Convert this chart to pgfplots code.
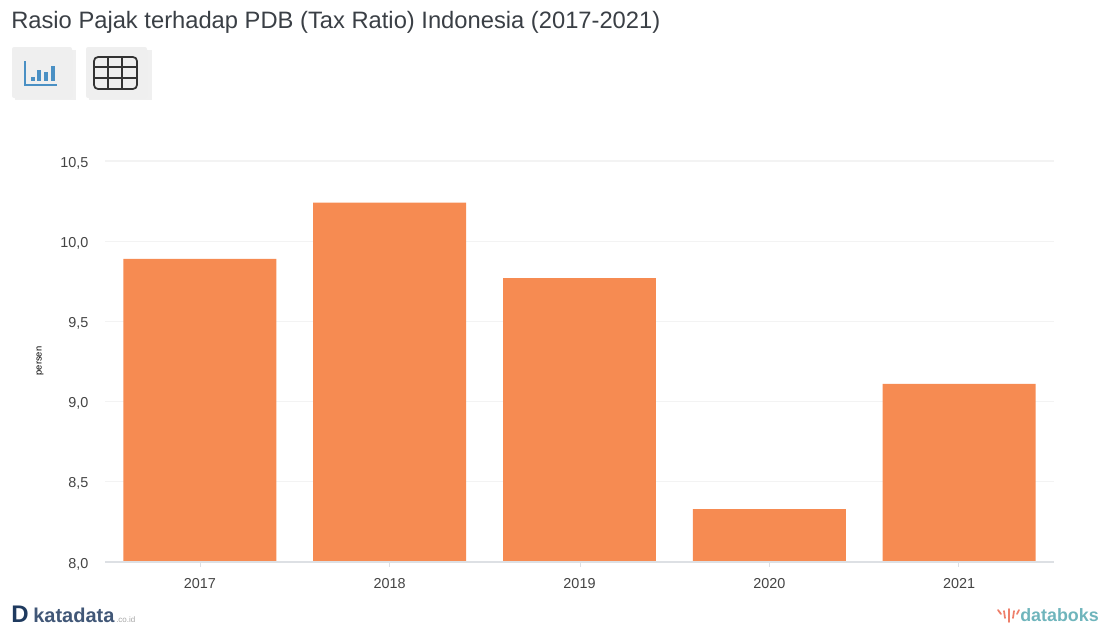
\documentclass[border=0pt]{standalone}
\usepackage{pgfplots}
\pgfplotsset{compat=1.18}
\usepackage{fontspec}
\setmainfont{Liberation Sans}
\definecolor{barorange}{HTML}{F68B52}
\definecolor{gridgray}{HTML}{F3F3F3}
\definecolor{axisgray}{HTML}{DDE0E4}
\definecolor{ticktext}{HTML}{444444}
\definecolor{titletext}{HTML}{3A3F45}
\definecolor{katablue}{HTML}{1F3A5F}
\definecolor{datateal}{HTML}{6FB5BC}
\definecolor{datared}{HTML}{EE7F6A}
\definecolor{iconblue}{HTML}{4A90C4}
\definecolor{btn}{HTML}{EFEFEF}
\definecolor{btnshadow}{HTML}{F0F0F0}
\pgfplotstableread{
idx value
0 9.89
1 10.24
2 9.77
3 8.33
4 9.11
}\taxratio
\begin{document}
\begin{tikzpicture}
\begin{axis}[
  at={(78.75pt,-421.5pt)}, anchor=south west,
  scale only axis,
  width=711.75pt, height=300.75pt,
  xmin=-0.5, xmax=4.5, ymin=8, ymax=10.5,
  ybar, bar width=0.806, bar shift=0pt,
  xtick={0,1,2,3,4},
  xticklabels={2017,2018,2019,2020,2021},
  ytick={8,8.5,9,9.5,10,10.5},
  yticklabels={{8,0},{8,5},{9,0},{9,5},{10,0},{10,5}},
  ymajorgrids,
  grid style={gridgray,line width=0.8pt},
  axis line style={draw=none},
  tick style={draw=none},
  major tick length=0pt,
  ticklabel style={font=\fontsize{10.8pt}{12pt}\selectfont,text=ticktext},
  xticklabel style={yshift=-9pt},
  yticklabel style={xshift=-9pt,yshift=-1.5pt},
]
\addplot[fill=barorange,draw=none,forget plot] table[x=idx,y=value]{\taxratio};
\end{axis}
\begin{scope}[x=0.75pt,y=-0.75pt]
% page frame
\path[use as bounding box] (0,0) rectangle (1102,625);
% baseline and tick stubs
\draw[axisgray,line width=0.9pt] (105,562) -- (1054,562);
\foreach \tx in {200,389,580,769,958} \draw[axisgray,line width=0.6pt] (\tx,562) -- (\tx,567);
% value axis caption
\node[rotate=90,font=\fontsize{7pt}{8pt}\selectfont,text=black] at (40,361) {persen};
% heading
\node[anchor=base west,inner sep=0,font=\fontsize{17.8pt}{18pt}\selectfont,text=titletext] at (11,28) {Rasio Pajak terhadap PDB (Tax Ratio) Indonesia (2017-2021)};
% view buttons
\fill[btnshadow] (15,50) rectangle (76,100);
\fill[btn,rounded corners=1.5pt] (12,47) rectangle (72,98);
\fill[btnshadow] (89,50) rectangle (152,100);
\fill[btn,rounded corners=1.5pt] (86,47) rectangle (147,98);
\begin{scope}[iconblue,line width=1.6pt]
\draw (25,61) -- (25,85) -- (57,85);
\draw[line width=2.6pt] (33,77) -- (33,81) (39,70) -- (39,81) (46,72) -- (46,81) (53,66) -- (53,81);
\end{scope}
\begin{scope}[black!80,line width=1.3pt]
\draw[rounded corners=3pt] (94,57) rectangle (137,89);
\draw (94,67) -- (137,67) (94,78) -- (137,78) (108,57) -- (108,89) (122,57) -- (122,89);
\end{scope}
% footer marks
\node[anchor=base west,inner sep=0,font=\bfseries\fontsize{18pt}{20pt}\selectfont,text=katablue] at (11,622) {D};
\node[anchor=base west,inner sep=0,font=\bfseries\fontsize{15pt}{16pt}\selectfont,text=katablue!85] at (33,622) {katadata};
\node[anchor=base west,inner sep=0,font=\fontsize{6pt}{7pt}\selectfont,text=black!35] at (116,622) {.co.id};
\node[anchor=base east,inner sep=0,font=\bfseries\fontsize{13.4pt}{16pt}\selectfont,text=datateal] at (1099,621) {databoks};
\begin{scope}[datared,line width=1.3pt,line cap=round]
\draw (1009,622) -- (1009,609) (1005,618) -- (1004,611) (1013,618) -- (1014,611) (1001,614) -- (998,610) (1017,614) -- (1019,610);
\end{scope}
\end{scope}
\end{tikzpicture}
\end{document}
